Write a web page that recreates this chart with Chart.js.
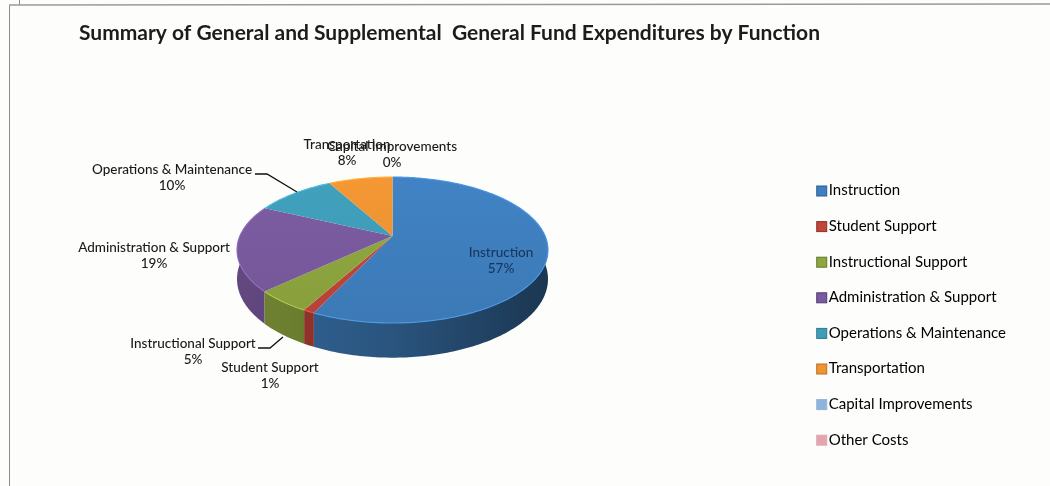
<!DOCTYPE html>
<html>
<head>
<meta charset="utf-8">
<title>Expenditures by Function</title>
<script src="https://cdn.jsdelivr.net/npm/chart.js@4"></script>
<style>
    html, body { margin: 0; padding: 0; background: #fdfdfc; }
    #wrap { position: relative; width: 1050px; height: 486px; }
    canvas { filter: blur(0.55px); }
</style>
</head>
<body>
<div id="wrap"><canvas id="pie" width="1050" height="486"></canvas></div>
<script>
"use strict";

const chartTitle = "Summary of General and Supplemental  General Fund Expenditures by Function";
const categories = ["Instruction", "Student Support", "Instructional Support", "Administration & Support",
    "Operations & Maintenance", "Transportation", "Capital Improvements", "Other Costs"];
const values = [57, 1, 5, 19, 10, 8, 0, 0];
const sliceColors = ["#3f7fbf", "#c0453a", "#8ea63f", "#7a5a9f", "#3f9db8", "#ee9432", "#8fb4dc", "#e3a6ae"];
const swatchBorders = ["#2a5f96", "#8f2f2a", "#5f7a2c", "#4f3b7c", "#2a7a92", "#b96f22", "#8fb4dc", "#e3a6ae"];

// centre of each data label, by category (Other Costs has no label)
const labelSpots = [[501, 253], [270, 368], [193, 344], [154, 248], [172, 170], [347, 145], [392, 147], null];

// the pie is seen in perspective, canvas arcs can't do that so the slices get projected here
const PIE = { cx: 392.5, cy: 236, rx: 152.6, ry: 70.3, tilt: 0.192, depth: 28 };

function project(angle, drop) {
    const u = Math.cos(angle), v = Math.sin(angle);
    const w = 1 - PIE.tilt * v;
    return [PIE.cx + PIE.rx * u / w, PIE.cy + (PIE.ry * v + (drop || 0)) / w];
}

function shade(hex, f) {
    const n = parseInt(hex.slice(1), 16);
    const c = [n >> 16, (n >> 8) & 255, n & 255].map(function (x) { return Math.min(255, Math.round(x * f)); });
    return "rgb(" + c.join(",") + ")";
}

const pie3d = {
    id: "pie3d",
    beforeDatasetDraw: function (chart) {
        const ctx = chart.ctx;
        const arcs = chart.getDatasetMeta(0).data;
        const step = Math.PI / 180;

        // side wall first
        arcs.forEach(function (arc) {
            const color = arc.options.backgroundColor;
            const rim = [], low = [];
            for (let a = arc.startAngle; ; a += step) {
                const t = Math.min(a, arc.endAngle);
                if (Math.sin(t) >= -0.25) {
                    rim.push(project(t));
                    low.push(project(t, PIE.depth));
                }
                if (a >= arc.endAngle) break;
            }
            if (rim.length < 2) return;
            const g = ctx.createLinearGradient(PIE.cx - PIE.rx, 0, PIE.cx + PIE.rx, 0);
            g.addColorStop(0, shade(color, 0.8));
            g.addColorStop(0.5, shade(color, 0.66));
            g.addColorStop(1, shade(color, 0.43));
            ctx.fillStyle = g;
            ctx.beginPath();
            rim.concat(low.reverse()).forEach(function (p) { ctx.lineTo(p[0], p[1]); });
            ctx.closePath();
            ctx.fill();
        });

        // top face
        arcs.forEach(function (arc) {
            if (arc.endAngle - arc.startAngle <= 0) return;
            const color = arc.options.backgroundColor;
            ctx.beginPath();
            ctx.moveTo(PIE.cx, PIE.cy);
            for (let a = arc.startAngle; a < arc.endAngle; a += step) {
                const p = project(a);
                ctx.lineTo(p[0], p[1]);
            }
            const end = project(arc.endAngle);
            ctx.lineTo(end[0], end[1]);
            ctx.closePath();
            const g = ctx.createLinearGradient(0, PIE.cy - 60, 0, PIE.cy + 90);
            g.addColorStop(0, shade(color, 1.03));
            g.addColorStop(1, shade(color, 0.95));
            ctx.fillStyle = g;
            ctx.fill();

            // pale rim on the outer edge
            ctx.beginPath();
            for (let a = arc.startAngle; a < arc.endAngle; a += step) {
                const p = project(a);
                ctx.lineTo(p[0], p[1]);
            }
            ctx.lineTo(end[0], end[1]);
            ctx.strokeStyle = shade(color, 1.2);
            ctx.lineWidth = 1.1;
            ctx.stroke();
        });
        return false;
    },
    afterDraw: function (chart) {
        const ctx = chart.ctx;
        ctx.save();

        // scanned page frame
        ctx.strokeStyle = "#8b8b8b";
        ctx.lineWidth = 1;
        ctx.beginPath();
        ctx.moveTo(9.5, 486);
        ctx.lineTo(9.5, 5);
        ctx.moveTo(19.5, 0);
        ctx.lineTo(19.5, 5);
        ctx.stroke();
        ctx.strokeStyle = "#9a9a9a";
        ctx.lineWidth = 1.6;
        ctx.beginPath();
        ctx.moveTo(9, 5);
        ctx.lineTo(1050, 4);
        ctx.stroke();

        // leader lines
        ctx.strokeStyle = "#111111";
        ctx.lineWidth = 1.3;
        ctx.beginPath();
        ctx.moveTo(255, 174);
        ctx.lineTo(267, 174);
        ctx.lineTo(297, 192);
        ctx.moveTo(258, 348);
        ctx.lineTo(270, 348);
        ctx.lineTo(283, 337);
        ctx.stroke();

        // data labels
        const total = values.reduce(function (a, b) { return a + b; }, 0);
        ctx.font = "500 13.5px Lato";
        ctx.textAlign = "center";
        ctx.textBaseline = "middle";
        categories.forEach(function (name, i) {
            const spot = labelSpots[i];
            if (!spot) return;
            ctx.fillStyle = i === 0 ? "#17375e" : "#1a1a1a";
            ctx.fillText(name, spot[0], spot[1]);
            ctx.fillText(Math.round(values[i] / total * 100) + "%", spot[0], spot[1] + 16);
        });

        // legend swatches sit on the library's hit boxes, wider than the box it leaves for them
        chart.legend.legendHitBoxes.forEach(function (box, i) {
            ctx.fillStyle = sliceColors[i];
            ctx.strokeStyle = swatchBorders[i];
            ctx.lineWidth = 1;
            ctx.fillRect(box.left + 1.5, box.top + 3, 10, 10);
            ctx.strokeRect(box.left + 1.5, box.top + 3, 10, 10);
        });
        ctx.restore();
    }
};

new Chart(document.getElementById("pie"), {
    type: "pie",
    data: {
        labels: categories,
        datasets: [{ data: values, backgroundColor: sliceColors, borderWidth: 0 }]
    },
    options: {
        responsive: false,
        animation: false,
        layout: { padding: { top: 10, right: 34, bottom: 0, left: 79 } },
        plugins: {
            title: {
                display: true,
                text: chartTitle,
                align: "start",
                color: "#1c1c1c",
                font: { family: "Lato", size: 21, weight: "bold" },
                padding: { top: 11, bottom: 98 }
            },
            legend: {
                display: true,
                position: "right",
                fullSize: false,
                labels: {
                    color: "#222222",
                    font: { family: "Lato", size: 15 },
                    boxWidth: 6,
                    boxHeight: 10,
                    padding: 20.6,
                    generateLabels: function () {
                        return categories.map(function (name, i) {
                            return {
                                text: name,
                                fillStyle: "rgba(0,0,0,0)",
                                strokeStyle: "rgba(0,0,0,0)",
                                lineWidth: 0,
                                index: i
                            };
                        });
                    }
                }
            },
            tooltip: { enabled: false }
        }
    },
    plugins: [pie3d]
});
</script>
</body>
</html>
